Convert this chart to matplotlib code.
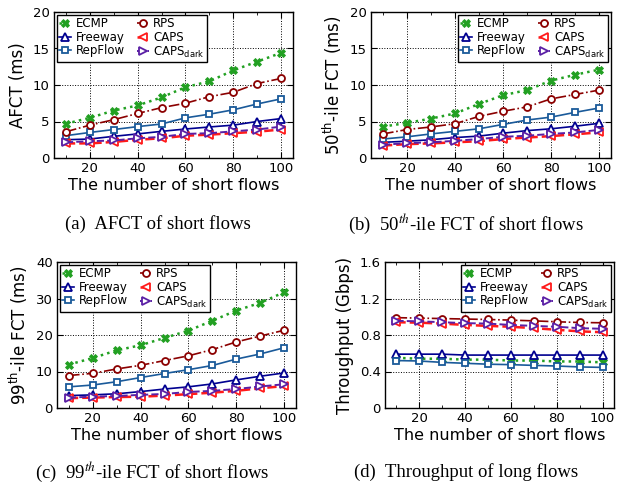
import matplotlib
matplotlib.use("Agg")
import matplotlib.pyplot as plt
from matplotlib.ticker import MultipleLocator

x = [10, 20, 30, 40, 50, 60, 70, 80, 90, 100]
names = ["ECMP", "Freeway", "RepFlow", "RPS", "CAPS", "CAPS$_{\\mathrm{dark}}$"]

afct = {
    "ECMP":    [4.7, 5.5, 6.5, 7.2, 8.3, 9.7, 10.5, 12.0, 13.2, 14.4],
    "RPS":     [3.6, 4.5, 5.25, 6.1, 6.9, 7.5, 8.4, 9.0, 10.2, 10.9],
    "Freeway": [2.5, 2.6, 2.97, 3.3, 3.65, 3.97, 4.25, 4.5, 5.0, 5.4],
    "CAPS":    [2.0, 2.0, 2.2, 2.5, 2.7, 3.05, 3.2, 3.4, 3.6, 3.9],
    "RepFlow": [3.06, 3.5, 3.9, 4.3, 4.66, 5.5, 6.0, 6.6, 7.4, 8.1],
    "CAPS$_{\\mathrm{dark}}$": [2.15, 2.3, 2.4, 2.7, 2.9, 3.3, 3.4, 3.65, 3.9, 4.3],
}
p50 = {
    "ECMP":    [4.3, 4.8, 5.4, 6.1, 7.4, 8.6, 9.3, 10.6, 11.4, 12.1],
    "RPS":     [3.3, 3.9, 4.25, 4.7, 5.7, 6.4, 7.0, 8.1, 8.7, 9.3],
    "Freeway": [2.15, 2.3, 2.5, 2.8, 3.0, 3.4, 3.75, 4.0, 4.35, 4.75],
    "CAPS":    [1.7, 1.9, 2.0, 2.15, 2.3, 2.6, 2.8, 3.0, 3.25, 3.5],
    "RepFlow": [2.6, 2.9, 3.3, 3.65, 4.0, 4.6, 5.2, 5.6, 6.25, 6.85],
    "CAPS$_{\\mathrm{dark}}$": [1.8, 2.05, 2.15, 2.35, 2.6, 2.9, 3.05, 3.3, 3.5, 3.85],
}
p99 = {
    "ECMP":    [11.9, 13.7, 15.8, 17.2, 19.2, 21.2, 23.9, 26.7, 28.8, 31.7],
    "RPS":     [8.9, 9.5, 10.7, 11.7, 13.0, 14.3, 16.0, 18.1, 19.7, 21.3],
    "Freeway": [3.4, 3.6, 3.9, 4.5, 5.2, 5.8, 6.6, 7.7, 8.7, 9.6],
    "CAPS":    [2.7, 2.85, 3.0, 3.1, 3.4, 3.8, 4.2, 4.7, 5.4, 6.0],
    "RepFlow": [5.8, 6.3, 7.2, 8.35, 9.45, 10.5, 11.65, 13.4, 14.8, 16.5],
    "CAPS$_{\\mathrm{dark}}$": [2.85, 3.1, 3.3, 3.6, 3.85, 4.4, 4.7, 5.2, 5.9, 6.5],
}
thr = {
    "ECMP":    [0.55, 0.54, 0.54, 0.53, 0.53, 0.52, 0.52, 0.51, 0.51, 0.50],
    "RPS":     [0.99, 0.985, 0.98, 0.975, 0.97, 0.963, 0.955, 0.945, 0.937, 0.934],
    "Freeway": [0.59, 0.59, 0.59, 0.58, 0.58, 0.58, 0.58, 0.58, 0.58, 0.58],
    "CAPS":    [0.94, 0.935, 0.925, 0.91, 0.90, 0.89, 0.875, 0.857, 0.84, 0.83],
    "RepFlow": [0.52, 0.515, 0.50, 0.49, 0.48, 0.475, 0.467, 0.46, 0.45, 0.445],
    "CAPS$_{\\mathrm{dark}}$": [0.955, 0.95, 0.94, 0.93, 0.925, 0.91, 0.90, 0.89, 0.875, 0.868],
}

ylabels = ["AFCT (ms)", "50$^{\\mathrm{th}}$-ile FCT (ms)",
           "99$^{\\mathrm{th}}$-ile FCT (ms)", "Throughput (Gbps)"]
captions = ["(a)  AFCT of short flows", "(b)  50$^{th}$-ile FCT of short flows",
            "(c)  99$^{th}$-ile FCT of short flows", "(d)  Throughput of long flows"]
xlabel = "The number of short flows"

styles = {
    "ECMP":    dict(color="#22a022", ls=":", marker="X", mfc="#22a022", lw=1.8, ms=6, mew=0.6),
    "RPS":     dict(color="#8b0000", ls="-.", marker="o", mfc="white", lw=1.2, ms=5, mew=1.3),
    "Freeway": dict(color="#000090", ls="-", marker="^", mfc="white", lw=1.2, ms=5.5, mew=1.3),
    "CAPS":    dict(color="#ff1a1a", ls="--", marker="<", mfc="white", lw=1.8, ms=5.5, mew=1.3),
    "RepFlow": dict(color="#1a5a9a", ls="-", marker="s", mfc="white", lw=1.2, ms=5, mew=1.3),
    "CAPS$_{\\mathrm{dark}}$": dict(color="#5a1fa5", ls="--", marker=">", mfc="white", lw=1.4, ms=5.5, mew=1.3),
}

plt.rcParams["mathtext.fontset"] = "dejavusans"
W, H = 624, 491
fig = plt.figure(figsize=(W / 100, H / 100), dpi=100)

boxes = [(54, 12, 293, 158), (371, 12, 611, 158), (57, 262, 296, 408), (385, 262, 614, 408)]
datasets = [afct, p50, p99, thr]
ylims = [(0, 20, 5), (0, 20, 5), (0, 40, 10), (0, 1.6, 0.4)]
leg_locs = ["upper left", "upper right", "upper left", "upper right"]
cap_pos = [(158, 224), (466, 224), (152, 472), (466, 472)]

for i in range(4):
    l, t, r, b = boxes[i]
    ax = fig.add_axes([l / W, 1 - b / H, (r - l) / W, (b - t) / H])
    d = datasets[i]
    for n in names:
        s = styles[n]
        ax.plot(x, d[n], label=n, color=s["color"], ls=s["ls"], lw=s["lw"],
                marker=s["marker"], ms=s["ms"], mfc=s["mfc"], mec=s["color"], mew=s["mew"])
    lo, hi, st = ylims[i]
    ax.set_xlim(5, 105)
    ax.set_ylim(lo, hi)
    ax.xaxis.set_major_locator(MultipleLocator(20))
    ax.xaxis.set_minor_locator(MultipleLocator(10))
    ax.yaxis.set_major_locator(MultipleLocator(st))
    if i == 3:
        ax.set_yticks([0, 0.4, 0.8, 1.2, 1.6])
        ax.set_yticklabels(["0", "0.4", "0.8", "1.2", "1.6"])
    ax.grid(True, which="major", color="black", ls=":", lw=0.7)
    ax.tick_params(which="both", direction="in", top=True, right=True, labelsize=9.5, pad=3)
    ax.tick_params(which="major", length=4)
    ax.tick_params(which="minor", length=2)
    for sp in ax.spines.values():
        sp.set_linewidth(1.0)
    ax.set_xlabel(xlabel, fontsize=11.5, labelpad=2)
    ax.set_ylabel(ylabels[i], fontsize=12, labelpad=4)
    ax.legend(loc=leg_locs[i], ncol=2, fontsize=8.5, frameon=True, fancybox=False,
              edgecolor="black", framealpha=1, borderpad=0.2, labelspacing=0.05,
              handlelength=1.0, handletextpad=0.4, columnspacing=1.0, borderaxespad=0.25)
    cx, cy = cap_pos[i]
    fig.text(cx / W, 1 - cy / H, captions[i], ha="center", va="center",
             fontsize=13.5, family="Liberation Serif", math_fontfamily="stix")

fig.savefig("out.png", dpi=100)
